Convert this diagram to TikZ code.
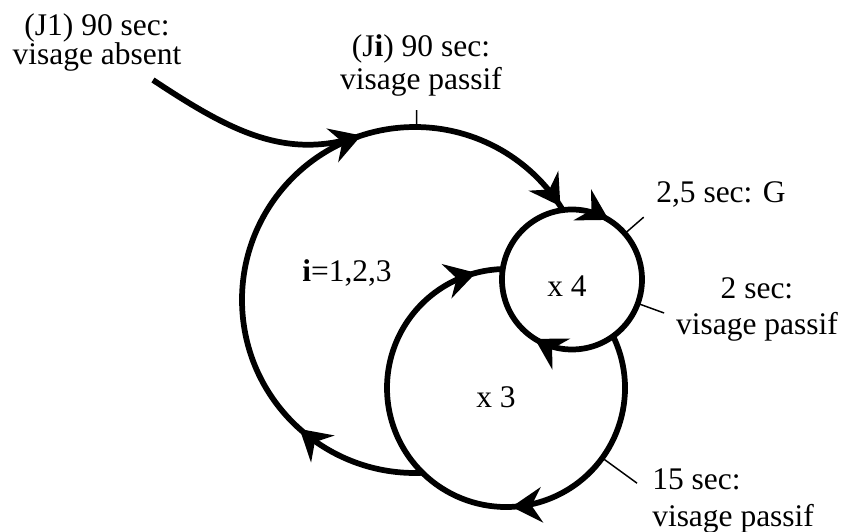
\documentclass[tikz,border=0pt]{standalone}
\usepackage{fontspec}
\setmainfont{Liberation Serif}
\usetikzlibrary{decorations.markings}
\tikzset{
  loopline/.style={line width=4.3pt},
  tickline/.style={line width=1.1pt},
  lbl/.style={font=\fontsize{23.6}{21}\selectfont, align=center, inner sep=0pt},
  arrowat/.style={postaction={decorate,
    decoration={markings, mark=at position #1 with
      {\fill (2pt,0pt) -- (-21pt,13.5pt) -- (-13pt,0pt) -- (-21pt,-13.5pt) -- cycle;}}}}
}
\begin{document}
\begin{tikzpicture}[x=0.75pt,y=0.75pt]
  \useasboundingbox (0,0) rectangle (844,532);

  % Circle centres
  \coordinate (big) at (415,232);
  \coordinate (small) at (572,252.5);
  \coordinate (mid) at (506,144);

  % Loops
  \draw[loopline,arrowat=0.18,arrowat=0.678,arrowat=0.99]
    ([shift={(272.5:173)}]big) arc[start angle=272.5,end angle=31.3,radius=173];
  \draw[loopline,arrowat=0.082,arrowat=0.583]
    ([shift={(90:70)}]small) arc[start angle=90,end angle=-270,radius=70];
  \draw[loopline,arrowat=0.38,arrowat=0.951]
    ([shift={(25.8:119)}]mid) arc[start angle=25.8,end angle=-268.5,radius=119];

  % Entry
  \coordinate (start) at (153,452);
  \draw[loopline] (start) .. controls (230,401) and (285,372) .. ([shift={(109:173)}]big);

  % Ticks
  \draw[tickline] ([shift={(89.5:173)}]big) -- ([shift={(89.5:190)}]big);
  \draw[tickline] ([shift={(41:70)}]small) -- ([shift={(41:95)}]small);
  \draw[tickline] ([shift={(-20:70)}]small) -- ([shift={(-20:98)}]small);
  \draw[tickline] ([shift={(-36:119)}]mid) -- ([shift={(-36:162)}]mid);

  % Labels
  \node[lbl,anchor=base] (absent) at (97,467) {(J1) 90 sec:\\visage absent};
  \node[lbl,anchor=base] (passif) at (421,442) {(J\textbf{i}) 90 sec:\\[2.2pt]visage passif};
  \node[lbl,anchor=base] (gaze) at (721,329) {2,5 sec: G};
  \node[lbl,anchor=base] (twosec) at (757,197) {2 sec:\\[6.4pt]visage passif};
  \node[lbl,anchor=base west,align=left] (fifteen) at (652,5.5) {15 sec:\\[6.4pt]visage passif};
  \node[lbl,anchor=base] (index) at (347,250) {\textbf{i}=1,2,3};
  \node[lbl,anchor=base] (four) at (567,235) {x 4};
  \node[lbl,anchor=base] (three) at (496,124) {x 3};
\end{tikzpicture}
\end{document}
